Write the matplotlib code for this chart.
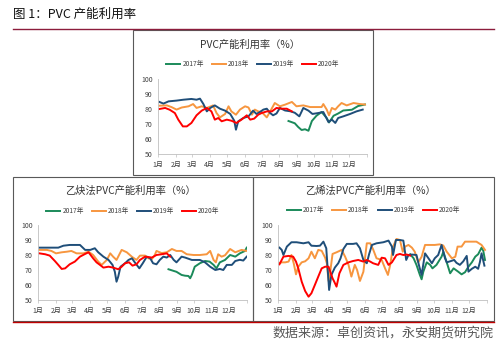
# PVC capacity utilisation, three panels (total / acetylene / ethylene)
import matplotlib
matplotlib.use('Agg')
import matplotlib.pyplot as plt
from matplotlib.lines import Line2D
from matplotlib.patches import Rectangle

plt.rcParams['font.family'] = ['Noto Sans CJK SC', 'DejaVu Sans']

# ---------------- data (day of year, utilisation %) ----------------
# PVC total
top_2017_day = [228, 239, 245, 251, 257, 263, 269, 277, 286, 295, 299, 307, 315, 324, 339, 350, 362]
top_2017_val = [72, 70.5, 68, 66, 66.5, 65.5, 72, 75.5, 78, 74, 71, 75.5, 77, 79, 79.5, 82, 83]
top_2018_day = [2, 15, 23, 32, 41, 53, 61, 67, 76, 85, 96, 102, 108, 117, 123, 128, 136, 143, 152, 158,
                164, 169, 175, 181, 190, 196, 204, 213, 222, 234, 242, 254, 266, 277, 286, 289, 295, 299, 304, 310,
                315, 321, 330, 342, 353, 362]
top_2018_val = [82.2, 82.4, 81.3, 79.6, 81, 81.8, 83.3, 80.7, 81.8, 80.7, 82.4, 77.3, 74.4, 76.7, 81.8, 78.4, 76.2, 79.6, 81.8, 81,
                76.2, 79.6, 78.4, 78, 74.4, 78.4, 84, 81.8, 82.9, 84.7, 81.8, 82.4, 81.3, 81.3, 81.3, 83.3, 79.6, 75.8, 80.7, 79.6,
                81.8, 84, 82.4, 84, 83.3, 83]
top_2019_day = [2, 9, 18, 32, 44, 58, 67, 73, 79, 85, 91, 99, 108, 117, 126, 133, 136, 140, 149, 158,
                166, 172, 178, 184, 190, 196, 201, 207, 213, 222, 231, 239, 247, 254, 263, 270, 280, 289, 298, 304,
                310, 315, 324, 336, 347, 358]
top_2019_val = [84.7, 83.6, 85.1, 85.6, 86.2, 86.7, 86.2, 86.9, 83.3, 78.4, 80.7, 82.4, 80.2, 78.9, 76.7, 72.2, 66.2, 71.8, 74, 75.1,
                78.9, 76.7, 78, 79.6, 80.2, 77.3, 75.8, 77, 80.7, 79, 78.5, 77.5, 75.1, 80.7, 78.9, 76.7, 77.3, 78, 71.3, 72.9,
                70.7, 74, 75.1, 76.7, 78.4, 79.6]
top_2020_day = [2, 12, 20, 29, 35, 43, 50, 58, 67, 76, 85, 93, 99, 105, 111, 120, 128, 137, 146, 155,
                161, 168, 175, 181, 190, 199, 207, 216, 225, 234]
top_2020_val = [80, 80.7, 79.5, 77.3, 72.9, 68.4, 68.4, 70.7, 75.8, 78.9, 80.7, 78.4, 72.9, 74, 71.8, 72.9, 72.2, 70.7, 73, 75.8,
                72.9, 73.6, 76.2, 77.3, 78.4, 78.4, 80.7, 80.2, 80.2, 78.4]

# acetylene process
ace_2017_day = [228, 237, 242, 251, 257, 263, 266, 269, 274, 283, 292, 300, 307, 312, 318, 327, 336, 345, 353, 362, 365]
ace_2017_val = [70.7, 69.6, 69, 66.9, 66.4, 66.2, 64.7, 67, 72.4, 74.7, 76.2, 75.8, 73.6, 71.3, 75.3, 76.9, 80.2, 79.1, 81.3, 82.9, 85.1]
ace_2018_day = [2, 15, 23, 31, 41, 50, 58, 67, 79, 88, 96, 105, 111, 120, 126, 131, 137, 146, 155, 164,
                172, 178, 187, 193, 199, 204, 207, 216, 225, 234, 242, 251, 260, 272, 283, 295, 301, 307, 311, 315,
                321, 327, 336, 345, 356, 365]
ace_2018_val = [83.6, 83.6, 82.9, 81.3, 82, 82.4, 82.9, 81.3, 81.3, 82.4, 80.2, 75.8, 73.6, 76.9, 81.3, 79.1, 76.9, 83.6, 82, 79,
                76.9, 79.8, 79.8, 78, 77.5, 80.2, 82.9, 81.5, 82, 84.2, 82.9, 82.9, 80.7, 80.2, 80.2, 80.7, 82.9, 76.9, 75.3, 80.7,
                79.1, 80, 84.2, 82, 83.6, 82.9]
ace_2019_day = [2, 15, 26, 35, 44, 55, 67, 73, 82, 91, 99, 105, 114, 123, 130, 134, 137, 140, 144, 152,
                158, 164, 169, 177, 183, 190, 196, 201, 207, 213, 219, 225, 231, 237, 242, 251, 257, 269, 283, 292,
                301, 310, 318, 324, 330, 339, 345, 353, 359, 365]
ace_2019_val = [85.1, 85.1, 85.1, 85.1, 86.4, 86.9, 86.9, 86.9, 83.6, 83.6, 84.7, 82, 79.1, 76.9, 73.6, 69.1, 62.4, 65.8, 72.4, 74.7,
                76.9, 78, 75.3, 71.3, 74.7, 79.1, 78, 74.7, 74, 77, 79.1, 78.5, 80.2, 77, 75.3, 79.1, 78.5, 76.9, 76.9, 75.3,
                72.4, 70.2, 70.9, 70.2, 73.6, 73.6, 76.2, 77, 76.5, 79.1]
ace_2020_day = [2, 12, 20, 29, 35, 41, 47, 55, 64, 73, 82, 88, 96, 102, 108, 114, 123, 131, 140, 146,
                152, 159, 165, 172, 178, 187, 199, 207, 216, 225, 231]
ace_2020_val = [81.3, 80.7, 79.8, 76.2, 73.6, 70.9, 71.3, 74, 75.8, 79.1, 80.9, 82, 78, 75.3, 73.6, 71.8, 72.4, 71.8, 70.7, 72.4,
                74.7, 75.3, 73.1, 74, 76.9, 79.1, 78.5, 80.2, 80.7, 81.3, 79.1]

# ethylene process
eth_2017_day = [231, 237, 242, 248, 251, 254, 260, 266, 270, 277, 286, 289, 295, 301, 307, 315, 321, 327, 333, 339,
                345, 350, 356, 359, 362]
eth_2017_val = [80.7, 78, 73.6, 66.9, 64, 69.1, 75.3, 73.6, 71.3, 73.6, 79.1, 82.4, 75.3, 68, 71.3, 69.1, 67.3, 68.7, 72.4, 75.3,
                79.1, 80.7, 85.1, 83, 76.9]
eth_2018_day = [2, 6, 12, 18, 23, 27, 31, 35, 41, 47, 53, 58, 64, 70, 76, 82, 85, 88, 91, 95,
                102, 111, 117, 123, 128, 134, 138, 143, 149, 155, 161, 166, 172, 181, 187, 192, 196, 201, 207, 213,
                218, 222, 228, 234, 239, 245, 251, 257, 266, 274, 283, 289, 295, 304, 310, 314, 321, 327, 336, 347,
                356, 362]
eth_2018_val = [74.7, 75.3, 75.3, 75.8, 80.2, 74.7, 67.3, 72.4, 75.3, 76, 78, 82.4, 78, 83.6, 83, 78.4, 74.7, 62.9, 69.1, 80.9,
                82, 83.6, 79.1, 73.6, 65.8, 73.6, 70.2, 62.9, 69, 88, 88, 84, 78, 77, 71.3, 66.9, 73.6, 85.8, 90.9, 90.2,
                82.4, 85.8, 86.9, 85.1, 82.4, 75.3, 79, 86.9, 86.9, 86.9, 87.3, 86.5, 82.4, 78, 79, 85.8, 85.8, 89.1, 89.1, 89.1,
                86.9, 83.6]
eth_2019_day = [2, 6, 9, 15, 23, 32, 44, 53, 58, 67, 73, 79, 84, 86, 89, 93, 99, 105, 109, 114,
                120, 131, 137, 143, 149, 155, 159, 164, 172, 184, 193, 199, 201, 206, 213, 219, 224, 228, 234, 242,
                247, 251, 257, 263, 269, 274, 280, 286, 292, 295, 301, 308, 312, 318, 324, 330, 333, 339, 345, 350,
                353, 356, 361]
eth_2019_val = [85.1, 83.6, 80.2, 85.8, 88.7, 88.7, 88, 88.7, 86.4, 86.2, 86.4, 89.1, 84.7, 73.6, 56.9, 66.9, 71.8, 74.7, 78, 84.2,
                87.6, 87.6, 88, 84.7, 76.9, 74.7, 80.7, 86.9, 88, 88.7, 89.8, 85.8, 80.2, 90.2, 90.2, 89.8, 76.9, 80.2, 80.5, 80.2,
                72.4, 66.9, 81.3, 78, 74.7, 78, 80.2, 86.9, 78, 75.3, 76, 76.9, 75, 73.6, 76, 79.6, 69.1, 71, 72.4, 71,
                75.3, 81.3, 73.1]
eth_2020_day = [2, 9, 18, 26, 31, 35, 41, 47, 53, 58, 64, 70, 76, 82, 88, 91, 95, 98, 102, 107,
                114, 123, 131, 140, 149, 155, 161, 166, 175, 181, 187, 193, 199, 207, 213, 219, 225, 231]
eth_2020_val = [74, 79.1, 79.6, 79.1, 75.8, 71.3, 62.4, 56.2, 52.4, 54.7, 60.2, 65.8, 71.3, 72.4, 72.4, 69.1, 64.7, 62.4, 59.1, 68,
                73.6, 75.3, 76.2, 76.9, 75.8, 76.9, 75.8, 74.7, 73.6, 78.4, 78, 73.6, 75.3, 80.2, 80.9, 80.2, 80.5, 79.8]

years        = ['2017年', '2018年', '2019年', '2020年']
colors       = ['#1B8A5A', '#F7963F', '#1F4E79', '#FF0000']
month_labels = ['1月', '2月', '3月', '4月', '5月', '6月', '7月', '8月', '9月', '10月', '11月', '12月']
month_start  = [0, 31, 59, 90, 120, 151, 181, 212, 243, 273, 304, 334]
y_ticks      = [50, 60, 70, 80, 90, 100]

# ---------------- layout helpers (pixel -> figure fraction) ----------------
W, H = 501, 353
def fx(x): return x / W
def fy(y): return 1 - y / H

fig = plt.figure(figsize=(W / 100, H / 100), dpi=100)
fig.patch.set_facecolor('white')

def hline(x0, x1, y, color, lw):
    fig.add_artist(Line2D([fx(x0), fx(x1)], [fy(y), fy(y)], transform=fig.transFigure, color=color, lw=lw))

def box(x0, y0, x1, y1):
    fig.add_artist(Rectangle((fx(x0), fy(y1)), fx(x1) - fx(x0), fy(y0) - fy(y1), transform=fig.transFigure,
                             fill=False, ec='#595959', lw=0.8))

def chart(left, top, right, bottom, series, title, cx, title_y, leg_y):
    ax = fig.add_axes([fx(left), fy(bottom), fx(right) - fx(left), fy(top) - fy(bottom)])
    handles = []
    for (d, v), c in zip(series, colors):
        ln, = ax.plot(d, v, color=c, lw=1.4, solid_joinstyle='round')
        handles.append(ln)
    ax.set_xlim(0, 365)
    ax.set_ylim(50, 100)
    ax.set_yticks(y_ticks)
    ax.set_xticks(month_start + [365])
    ax.set_xticklabels(month_labels + [''])
    ax.tick_params(axis='x', length=2, width=0.5, color='#BFBFBF', pad=3, labelsize=5, labelcolor='#404040')
    ax.tick_params(axis='y', length=0, pad=4, labelsize=5, labelcolor='#404040')
    for s in ['top', 'right']:
        ax.spines[s].set_visible(False)
    for s in ['left', 'bottom']:
        ax.spines[s].set_color('#BFBFBF')
        ax.spines[s].set_linewidth(0.6)
    ax.set_facecolor('none')
    fig.text(fx(cx - 3), fy(title_y), title, ha='center', va='center', fontsize=7.4, color='#333333')
    fig.legend(handles, years, loc='center', bbox_to_anchor=(fx(cx), fy(leg_y)), ncol=4, frameon=False,
               fontsize=4.8, handlelength=2.1, handletextpad=0.3, columnspacing=1.2, labelcolor='#404040')
    return ax

# header
fig.text(fx(13), fy(14), '图 1：PVC 产能利用率', ha='left', va='center', fontsize=9, color='#111111')
hline(13, 494, 29, '#8C1C3C', 1.0)

# panels
box(133, 30, 373, 175)
box(13, 176.5, 253, 320.5)
box(253, 176.5, 494, 320.5)

chart(158.3, 79, 366.7, 154,
      [(top_2017_day, top_2017_val), (top_2018_day, top_2018_val),
       (top_2019_day, top_2019_val), (top_2020_day, top_2020_val)],
      'PVC产能利用率（%）', 253, 45, 64)
chart(38.3, 225.3, 246.7, 300.3,
      [(ace_2017_day, ace_2017_val), (ace_2018_day, ace_2018_val),
       (ace_2019_day, ace_2019_val), (ace_2020_day, ace_2020_val)],
      '乙炔法PVC产能利用率（%）', 133, 191, 211)
chart(278.3, 225.3, 486.7, 300.3,
      [(eth_2017_day, eth_2017_val), (eth_2018_day, eth_2018_val),
       (eth_2019_day, eth_2019_val), (eth_2020_day, eth_2020_val)],
      '乙烯法PVC产能利用率（%）', 373.5, 191, 210)

# footer
hline(13, 494, 322, '#C00000', 1.0)
fig.text(fx(494), fy(333), '数据来源：卓创资讯，永安期货研究院', ha='right', va='center', fontsize=9.4, color='#595959')

fig.savefig('out.png', dpi=100)
